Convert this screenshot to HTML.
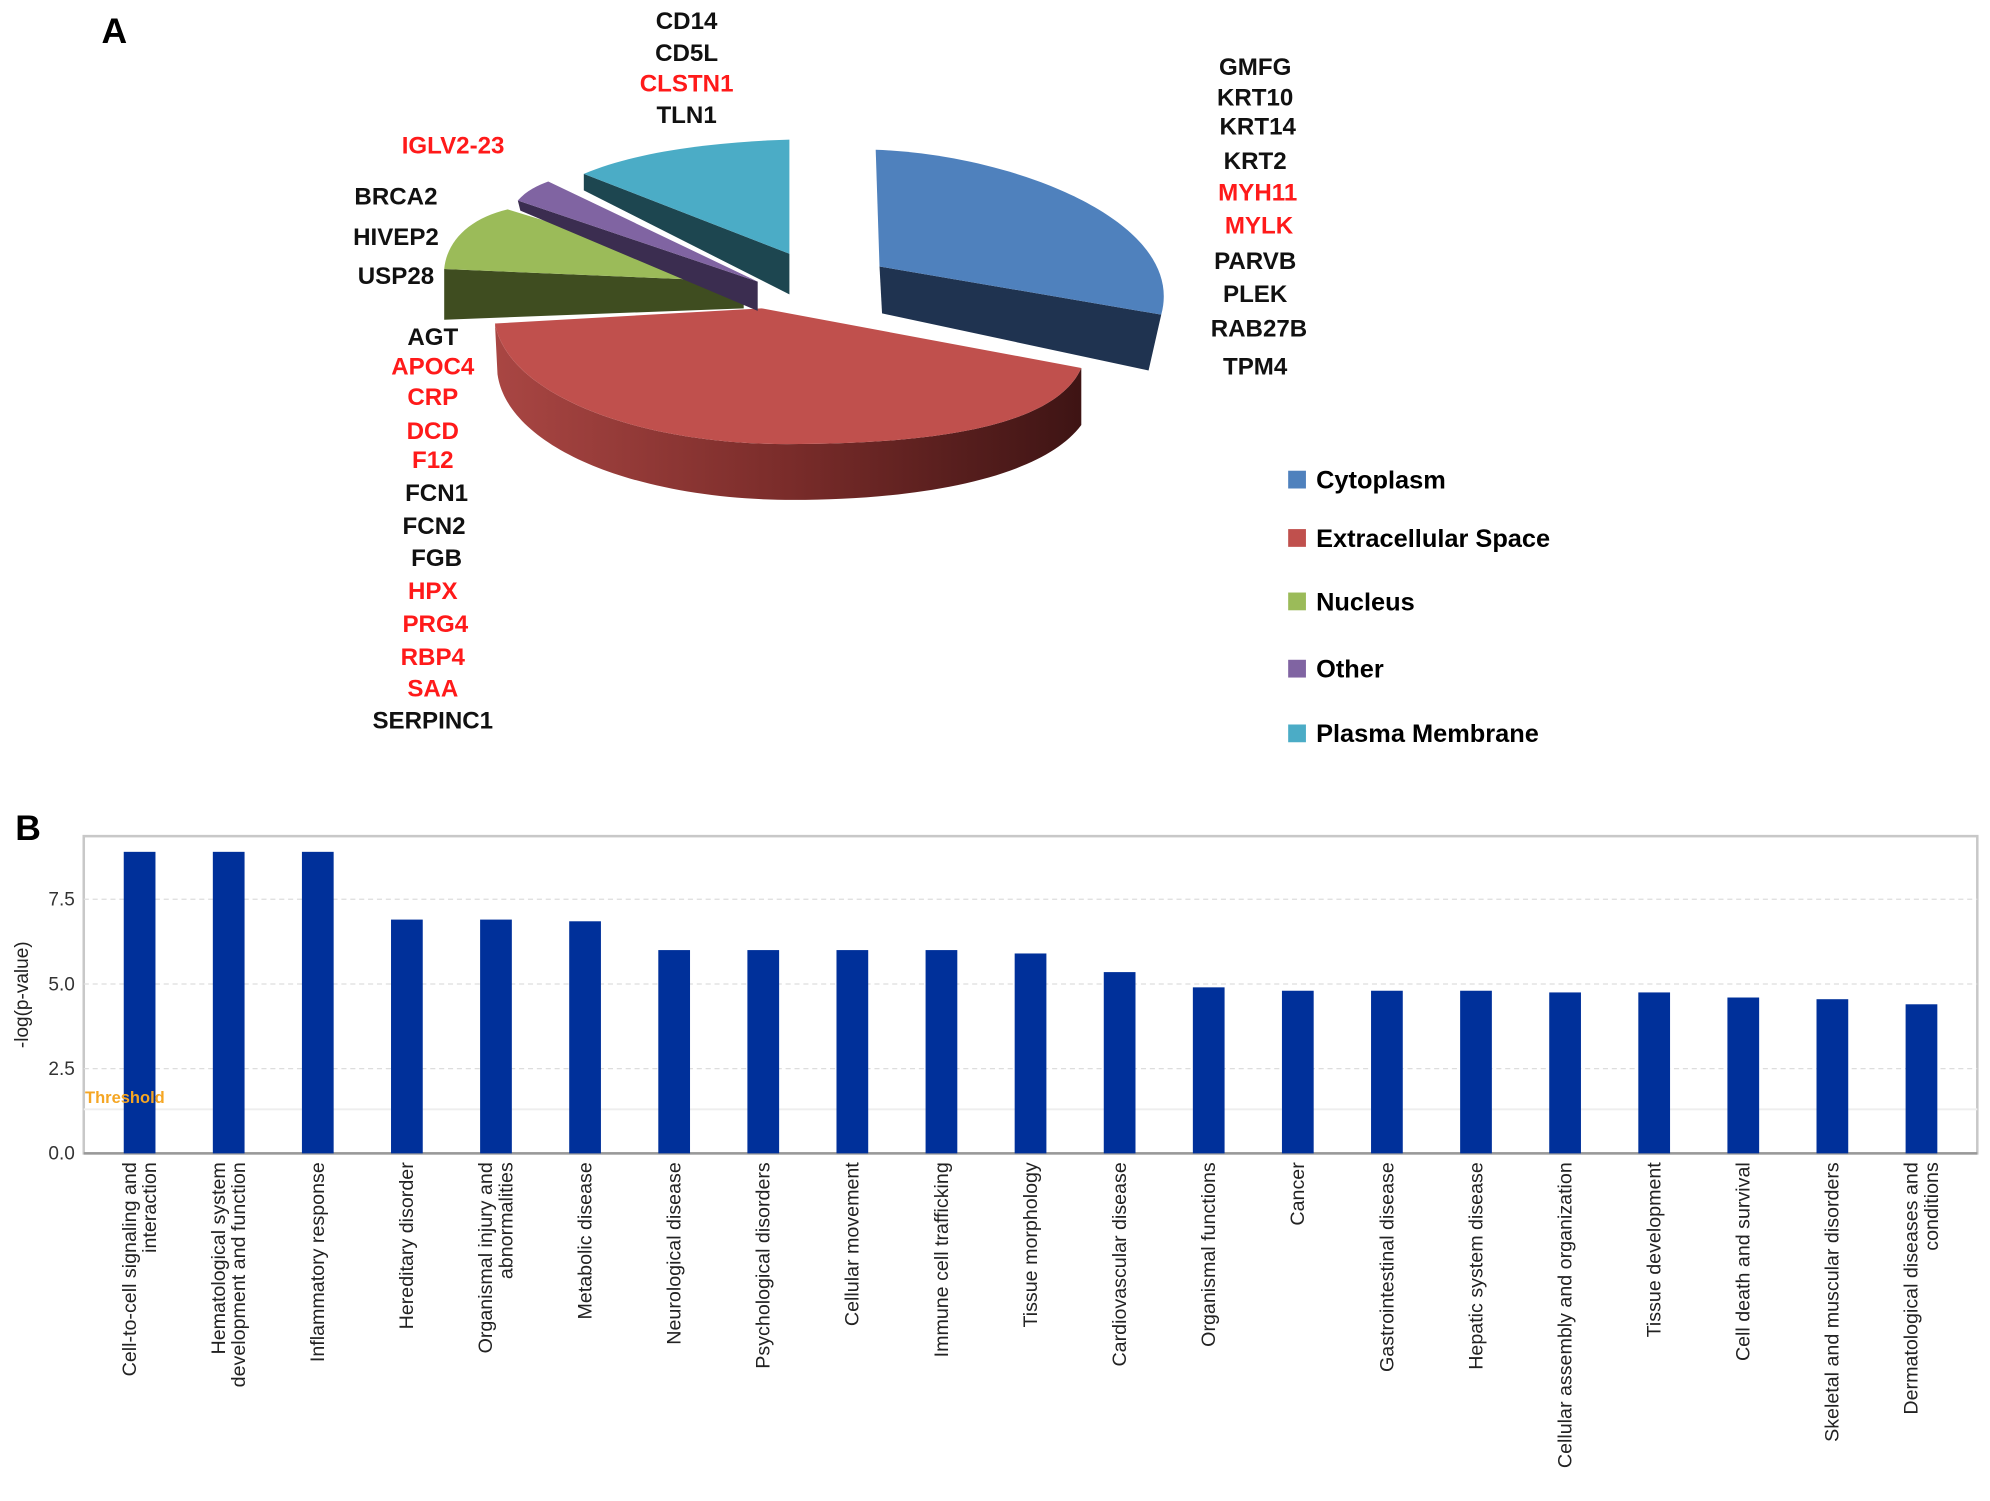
<!DOCTYPE html>
<html><head><meta charset="utf-8"><style>
html,body{margin:0;padding:0;background:#fff;}
svg{display:block;font-family:"Liberation Sans",Arial,sans-serif;}
</style></head><body>
<svg id="fig" width="1990" height="1501" viewBox="0 0 1568 1183" preserveAspectRatio="none" xmlns="http://www.w3.org/2000/svg">
<defs>
<linearGradient id="redside" x1="0" x2="1" y1="0" y2="0">
<stop offset="0" stop-color="#a94643"/><stop offset="0.5" stop-color="#7a2c2a"/><stop offset="1" stop-color="#3e1414"/>
</linearGradient>
</defs>
<text x="80" y="34" font-size="28" font-weight="bold">A</text>
<text x="12" y="662" font-size="28" font-weight="bold">B</text>

<g>
<path d="M693,210 L915,248 L905,292 L695,247 Z" fill="#1f3350"/>
<path d="M693,210 L690,118 C800,122 935,175 915,248 Z" fill="#4f81bd"/>
<path d="M390,255 C400,310 500,350 620,350 C720,350 830,340 852,290 L852,335 C820,378 720,394 625,394 C500,394 400,352 392,295 Z" fill="url(#redside)"/>
<path d="M390,255 L600,243 L852,290 C830,340 720,350 620,350 C500,350 400,310 390,255 Z" fill="#c0504d"/>
<path d="M350,212 L586,222 L586,243 L350,252 Z" fill="#3f4d20"/>
<path d="M586,222 L350,212 C352,190 370,172 400,165 Z" fill="#9bbb59"/>
<path d="M408,158 L597,222 L597,245 L410,166 Z" fill="#3b2d50"/>
<path d="M597,222 L408,158 C415,150 424,146 432,143 Z" fill="#8064a2"/>
<path d="M460,137 L622,200 L622,232 L460,150 Z" fill="#1d4650"/>
<path d="M622,200 L460,137 C500,120 560,112 622,110 Z" fill="#4bacc6"/>
</g>

<g id="genes" font-size="19" font-weight="bold" text-anchor="middle" dominant-baseline="middle"></g>

<g font-size="20" font-weight="bold">
<rect x="1015" y="371" width="14" height="14" fill="#4f81bd"/>
<text x="1037" y="385">Cytoplasm</text>
<rect x="1015" y="417" width="14" height="14" fill="#c0504d"/>
<text x="1037" y="431">Extracellular Space</text>
<rect x="1015" y="467" width="14" height="14" fill="#9bbb59"/>
<text x="1037" y="481">Nucleus</text>
<rect x="1015" y="520" width="14" height="14" fill="#8064a2"/>
<text x="1037" y="534">Other</text>
<rect x="1015" y="571" width="14" height="14" fill="#4bacc6"/>
<text x="1037" y="585">Plasma Membrane</text>
</g>

<g id="bar"></g>
</svg>
<script>
const genes=[
["CD14",541,18,0],["CD5L",541,43,0],["CLSTN1",541,67,1],["TLN1",541,92,0],
["IGLV2-23",357,116,1],["BRCA2",312,156,0],["HIVEP2",312,188,0],["USP28",312,219,0],
["AGT",341,267,0],["APOC4",341,290,1],["CRP",341,314,1],["DCD",341,341,1],["F12",341,364,1],
["FCN1",344,390,0],["FCN2",342,416,0],["FGB",344,441,0],["HPX",341,467,1],["PRG4",343,493,1],
["RBP4",341,519,1],["SAA",341,544,1],["SERPINC1",341,569,0],
["GMFG",989,54,0],["KRT10",989,78,0],["KRT14",991,101,0],["KRT2",989,128,0],["MYH11",991,153,1],
["MYLK",992,179,1],["PARVB",989,207,0],["PLEK",989,233,0],["RAB27B",992,260,0],["TPM4",989,290,0]];
const NS="http://www.w3.org/2000/svg";
const gg=document.getElementById('genes');
genes.forEach(g=>{const t=document.createElementNS(NS,'text');


t.setAttribute('x',g[1]);t.setAttribute('y',g[2]);t.setAttribute('fill',g[3]?'#ff1a1a':'#111');t.textContent=g[0];gg.appendChild(t);});
</script>
<script>
const categories=["Cell-to-cell signaling and|interaction","Hematological system|development and function","Inflammatory  response","Hereditary  disorder","Organismal injury and|abnormalities","Metabolic  disease","Neurological  disease","Psychological  disorders","Cellular movement","Immune cell  trafficking","Tissue morphology","Cardiovascular  disease","Organismal  functions","Cancer","Gastrointestinal  disease","Hepatic system  disease","Cellular assembly and  organization","Tissue development","Cell death and survival","Skeletal and muscular disorders","Dermatological diseases and|conditions"];
const values=[8.9,8.9,8.9,6.9,6.9,6.85,6.0,6.0,6.0,6.0,5.9,5.35,4.9,4.8,4.8,4.8,4.75,4.75,4.6,4.55,4.4];
const yTicks=[0,2.5,5,7.5];
const yTickLabels=["0.0","2.5","5.0","7.5"];
const threshold=1.3;
const X0=66,X1=1558,Y0=909,YT=659,PX=26.7;
const ys=v=>Y0-v*PX;
const xs=i=>110+i*70.2;
const bg=document.getElementById('bar');
function el(tag,attrs){const e=document.createElementNS(NS,tag);for(const k in attrs)e.setAttribute(k,attrs[k]);bg.appendChild(e);return e;}
let f=el('rect',{x:X0,y:YT,width:X1-X0,height:Y0-YT,fill:'none',stroke:'#c8c8c8','stroke-width':2});


yTicks.forEach((v,i)=>{
 if(v>0){const l=el('line',{x1:X0,x2:X1,y1:ys(v),y2:ys(v),stroke:'#ddd','stroke-dasharray':'4,3'});
 
 }
 const t=el('text',{x:59,y:ys(v)+5,'font-size':15,'text-anchor':'end',fill:'#333'});
 
 
 t.textContent=yTickLabels[i];
});
let th=el('line',{x1:X0,x2:X1,y1:ys(threshold),y2:ys(threshold),stroke:'#eee','stroke-width':1.5});


let ax=el('line',{x1:X0,x2:X1,y1:Y0,y2:Y0,stroke:'#999','stroke-width':2});


let yl=el('text',{x:0,y:0,'font-size':15,'text-anchor':'middle',fill:'#222',transform:'translate(22,784) rotate(-90)'});


yl.textContent='-log(p-value)';
values.forEach((v,i)=>{
 const b=el('rect',{x:xs(i)-12.5,y:ys(v),width:25,height:Y0-ys(v),fill:'#00309a'});
 
 
 const lines=categories[i].split('|');
 lines.forEach((ln,j)=>{
  const off=(j-(lines.length-1)/2)*16+5;
  const t=el('text',{x:0,y:0,'font-size':15.5,'text-anchor':'end',fill:'#222',transform:`translate(${xs(i)+off},916) rotate(-90)`});
  
  
  t.textContent=ln;
 });
});
let tt=el('text',{x:67,y:ys(threshold)-5,'font-size':13,'font-weight':'bold',fill:'#f5a623'});


tt.textContent='Threshold';
</script>
</body></html>
